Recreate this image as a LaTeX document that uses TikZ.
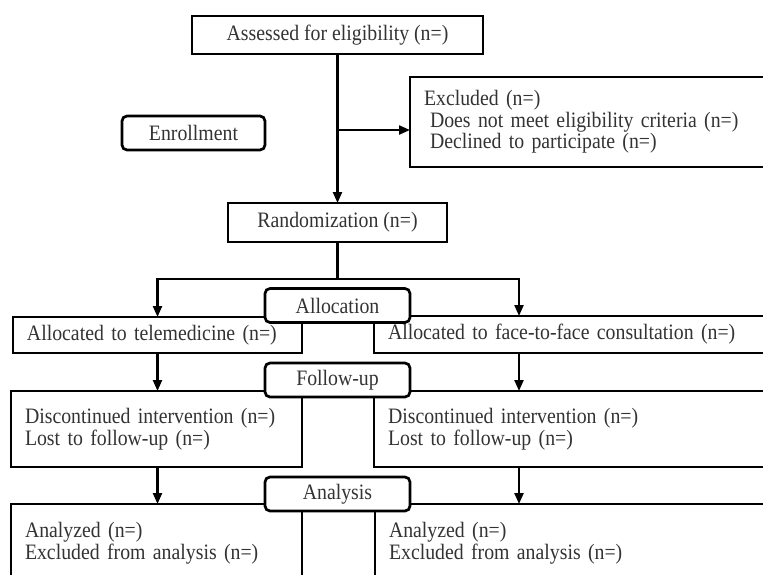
\documentclass[tikz,border=0pt]{standalone}
\usepackage{fontspec}
\setmainfont[FakeStretch=0.9]{Liberation Serif}
\usetikzlibrary{arrows.meta}
\begin{document}
\begin{tikzpicture}[x=1pt,y=-1pt,
  txt/.style={font=\fontsize{22}{21.5}\selectfont, text=black!80},
  plain/.style={txt, draw=black, line width=1.8pt, fill=white, inner ysep=0pt, outer sep=0pt},
  cbox/.style={plain, align=center, inner xsep=0pt},
  lbox/.style={plain, align=left, inner xsep=14pt},
  stage/.style={txt, draw=black, line width=2.7pt, rounded corners=5pt, fill=white,
    minimum width=145pt, minimum height=34pt, inner sep=0pt, outer sep=0pt},
  conn/.style={line width=2.2pt, draw=black},
  arr/.style={conn, -{Triangle[length=11pt,width=9pt]}}]
\useasboundingbox (0,0) rectangle (763,574);
\clip (0,0) rectangle (763,574);

% plain boxes
\node[cbox, minimum width=291pt, minimum height=38pt] (assess) at (337.5,35) {Assessed for eligibility (n=)};
\node[lbox, text width=352pt, minimum height=90pt] (excl) at (600,122)
  {Excluded (n=)\\\hspace*{6pt}Does not meet eligibility criteria (n=)\\\hspace*{6pt}Declined to participate (n=)};
\node[cbox, minimum width=219pt, minimum height=39pt] (rand) at (337.5,222.5) {Randomization (n=)};
\node[lbox, text width=261pt, minimum height=36pt] (la) at (157.5,335) {Allocated to telemedicine (n=)};
\node[lbox, text width=388pt, minimum height=37pt] (ra) at (582,334.5) {Allocated to face-to-face consultation (n=)};
\node[lbox, text width=263pt, minimum height=76pt] (ld) at (156.5,429) {Discontinued intervention (n=)\\Lost to follow-up (n=)};
\node[lbox, text width=388pt, minimum height=76pt] (rd) at (582,429) {Discontinued intervention (n=)\\Lost to follow-up (n=)};
\node[lbox, text width=263pt, minimum height=78pt] (lz) at (156.5,543) {Analyzed (n=)\\Excluded from analysis (n=)};
\node[lbox, text width=387pt, minimum height=78pt] (rz) at (582.5,543) {Analyzed (n=)\\Excluded from analysis (n=)};

% connectors
\coordinate (b1) at (337.5,130);
\coordinate (split) at (337.5,279);
\coordinate (rx) at (519,279);
\draw[arr] (assess.south) -- (rand.north);
\draw[arr] (b1) -- (excl.west |- b1);
\draw[conn] (rand.south) -- (split);
\draw[arr] (split) -| (la.north);
\draw[arr] (split) -| (rx |- ra.north);
\draw[arr] (la.south) -- (la.south |- ld.north);
\draw[arr] (rx |- ra.south) -- (rx |- rd.north);
\draw[arr] (la.south |- ld.south) -- (la.south |- lz.north);
\draw[arr] (rx |- rd.south) -- (rx |- rz.north);

% stage labels
\node[stage, minimum width=143pt] (enroll) at (193.5,133) {Enrollment};
\node[stage] (alloc) at (337.5,305.5) {Allocation};
\node[stage] (fu) at (337.5,380) {Follow-up};
\node[stage] (an) at (337.5,494) {Analysis};
\end{tikzpicture}
\end{document}
